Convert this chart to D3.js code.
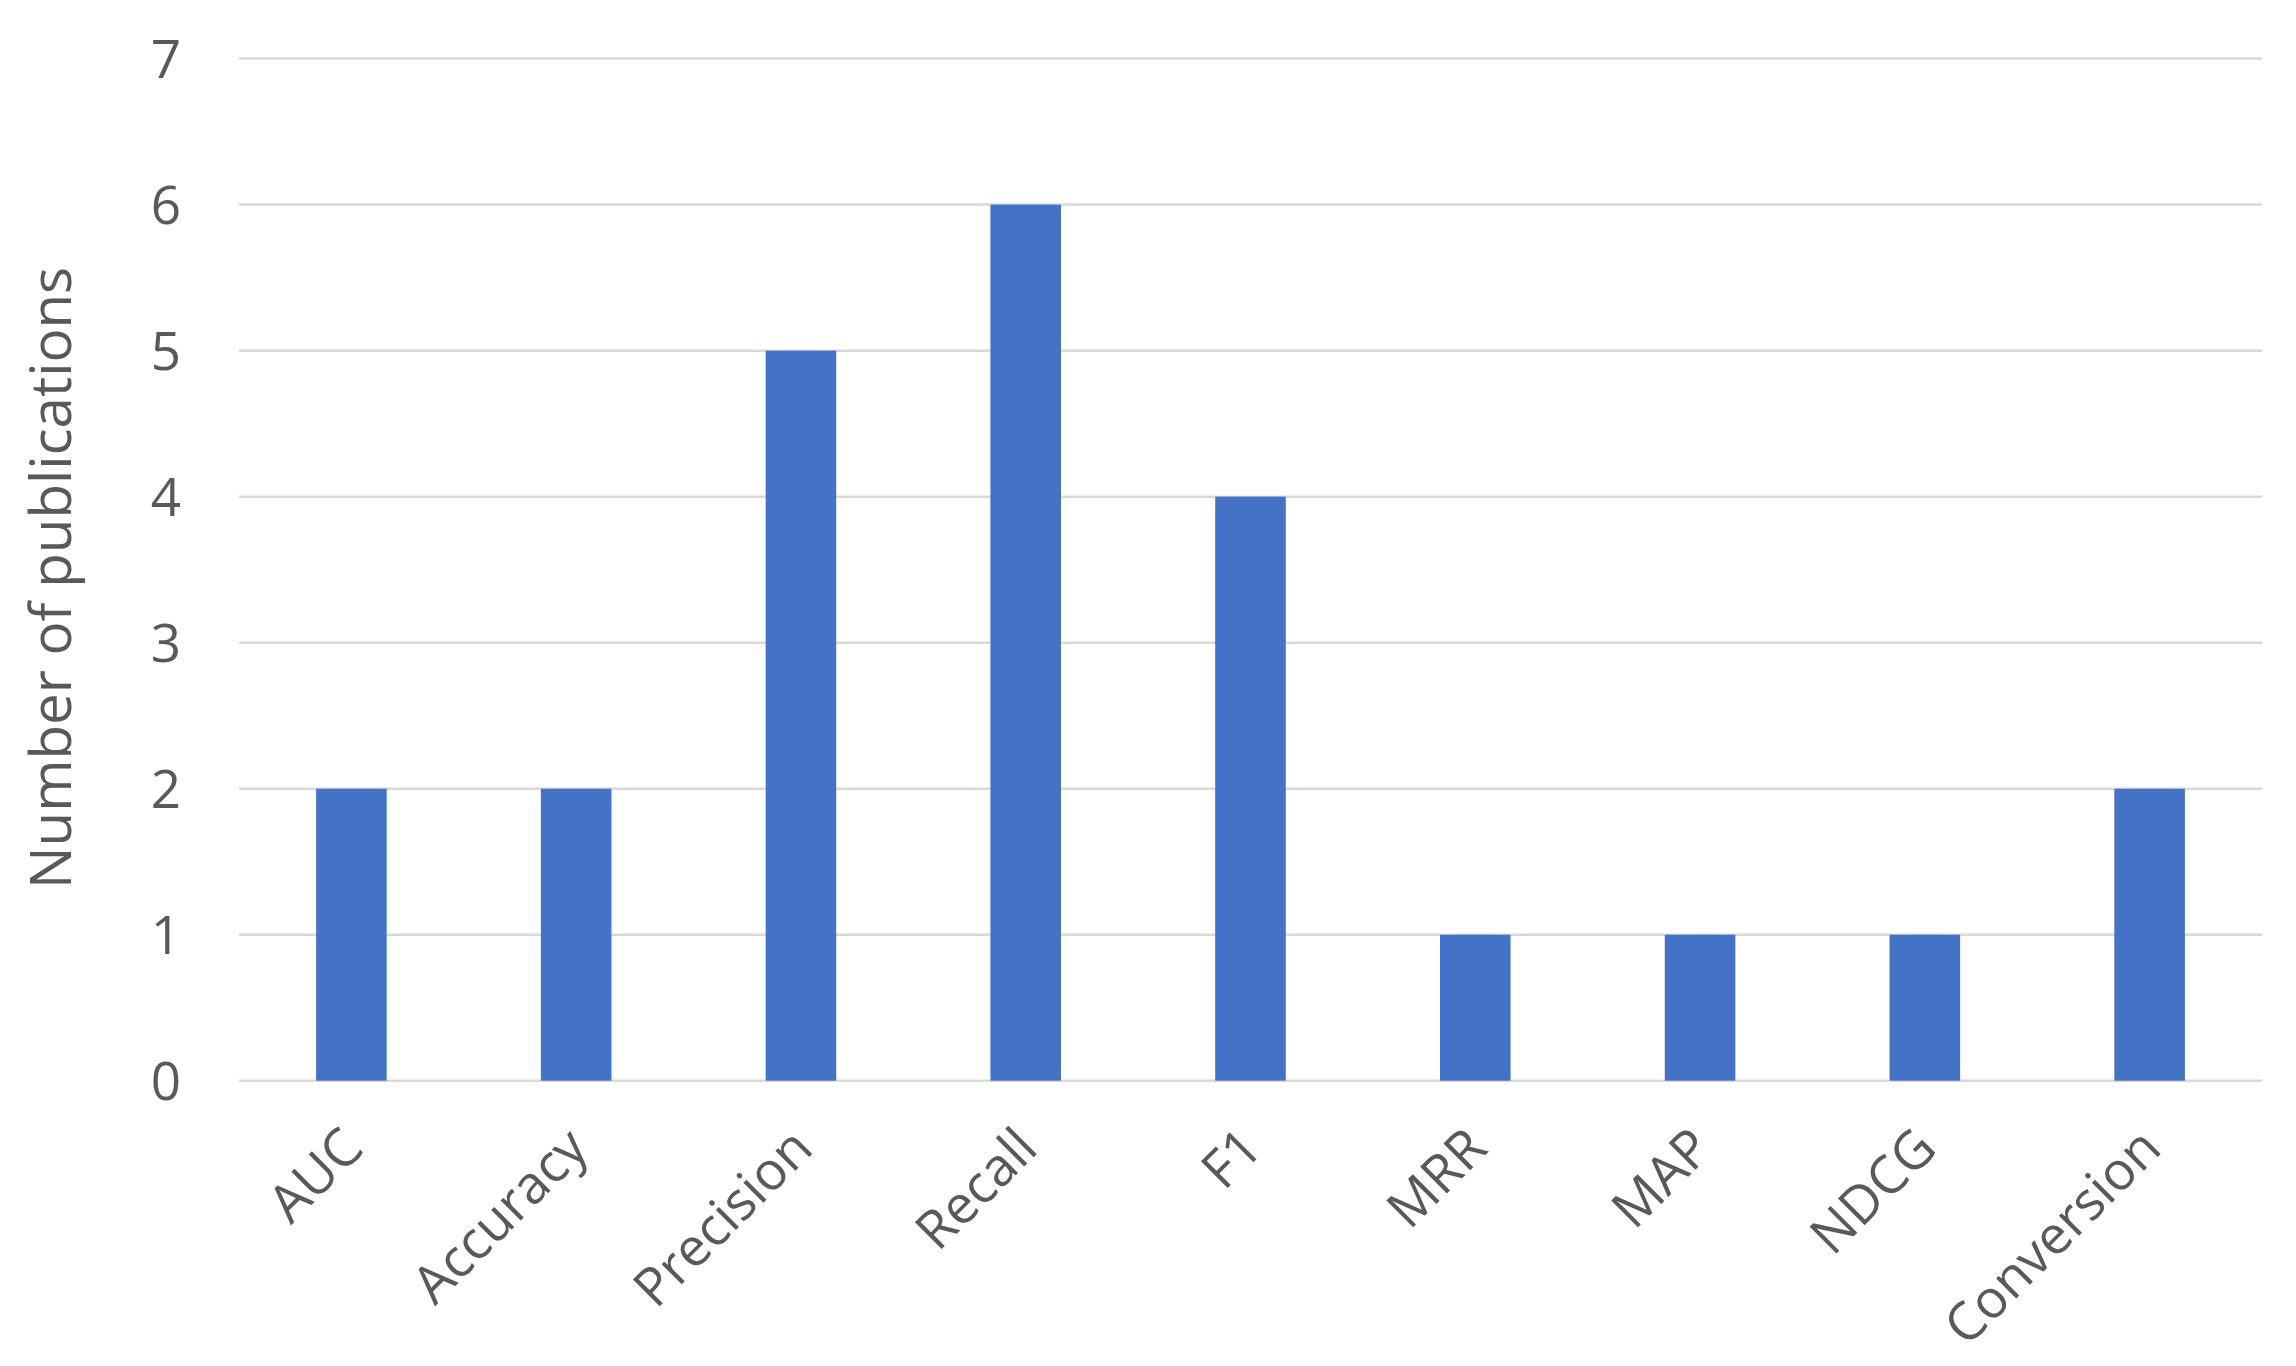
<!DOCTYPE html>
<html>
<head>
  <meta charset="utf-8">
  <script src="https://d3js.org/d3.v7.min.js"></script>
  <style>
    body { margin: 0; background: #ffffff; }
    #chart text { font-family: "Open Sans", "Noto Sans", sans-serif; fill: #595959; }
    .grid line { stroke: #d9d9d9; stroke-width: 2.5; }
    .bar { fill: #4472c4; }
  </style>
</head>
<body>
  <div id="chart"></div>
<script>
// data
const metrics = ["AUC", "Accuracy", "Precision", "Recall", "F1", "MRR", "MAP", "NDCG", "Conversion"];
const publications = [2, 2, 5, 6, 4, 1, 1, 1, 2];
const yTicks = [0, 1, 2, 3, 4, 5, 6, 7];

const w = 2296,
      h = 1366;
const plotLeft = 239, plotRight = 2262, plotTop = 58.6, plotBottom = 1080.7;

let svg = d3.select('#chart')
  .append('svg')
  .attr('width', w)
  .attr('height', h);

let x = d3.scaleBand()
  .domain(metrics)
  .range([plotLeft, plotRight])
  .paddingInner(0.686)
  .paddingOuter(0.343);

let y = d3.scaleLinear()
  .domain([0, 7])
  .range([plotBottom, plotTop]);

// gridlines
svg.append('g')
  .attr('class', 'grid')
  .selectAll('line')
  .data(yTicks)
  .enter()
  .append('line')
  .attr('x1', plotLeft)
  .attr('x2', plotRight)
  .attr('y1', d => y(d))
  .attr('y2', d => y(d));

// y tick labels
let yAxis = d3.axisLeft(y).tickValues(yTicks).tickFormat(d3.format('d')).tickSize(0).tickPadding(58);
let yg = svg.append('g')
  .attr('transform', 'translate(' + plotLeft + ',0)')
  .call(yAxis);
yg.select('.domain').remove();
yg.selectAll('text')
  .style('font-size', '53px')
  .attr('dy', '0.36em');

// bars
svg.append('g')
  .selectAll('rect')
  .data(metrics)
  .enter()
  .append('rect')
  .attr('class', 'bar')
  .attr('x', d => x(d))
  .attr('width', x.bandwidth())
  .attr('y', (d, i) => y(publications[i]))
  .attr('height', (d, i) => plotBottom - y(publications[i]));

// x labels, rotated
svg.append('g')
  .selectAll('text')
  .data(metrics)
  .enter()
  .append('text')
  .attr('transform', d => 'translate(' + (x(d) + x.bandwidth() / 2 - 12) + ',' + (plotBottom + 44) + ') rotate(-45)')
  .attr('text-anchor', 'end')
  .attr('dy', '0.7em')
  .style('font-size', '53px')
  .text(d => d);

// y axis title
svg.append('text')
  .attr('transform', 'translate(51,' + 578 + ') rotate(-90)')
  .attr('text-anchor', 'middle')
  .attr('dy', '0.35em')
  .style('font-size', '56.5px')
  .text('Number of publications');
</script>
</body>
</html>
